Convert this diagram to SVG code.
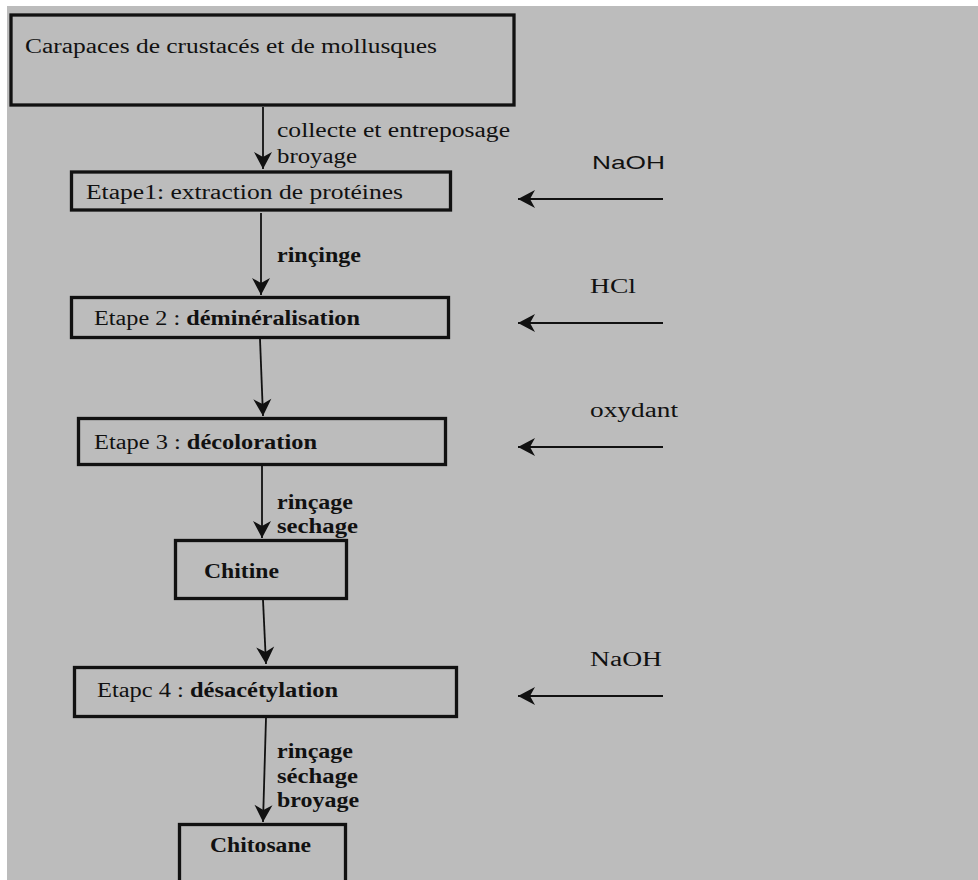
<svg xmlns="http://www.w3.org/2000/svg" width="978" height="880" viewBox="0 0 978 880">
<defs>
<style>
.box{fill:none;stroke:#111;stroke-width:3.3}
.ln{fill:none;stroke:#111;stroke-width:1.8}
.t{font-family:"Liberation Serif","Times New Roman",serif;fill:#111;font-size:20px}
.b{font-weight:bold}
.s{font-family:"Liberation Sans",Arial,sans-serif;fill:#111;font-size:19px}
</style>
<marker id="ah" viewBox="-18 -10 20 20" markerWidth="20" markerHeight="20" refX="0" refY="0" orient="auto" markerUnits="userSpaceOnUse">
<path d="M0,0 L-17,-9 L-12,0 L-17,9 Z" fill="#111"/>
</marker>
</defs>
<rect x="0" y="0" width="978" height="880" fill="#ffffff"/>
<rect x="7" y="6" width="971" height="874" fill="#bcbcbc"/>

<g id="connectors">
<line class="ln" x1="263" y1="107" x2="263" y2="169" marker-end="url(#ah)"/>
<line class="ln" x1="261" y1="213" x2="261" y2="295" marker-end="url(#ah)"/>
<line class="ln" x1="260" y1="339" x2="263" y2="416" marker-end="url(#ah)"/>
<line class="ln" x1="262" y1="466" x2="262" y2="538" marker-end="url(#ah)"/>
<line class="ln" x1="263" y1="600" x2="266" y2="664" marker-end="url(#ah)"/>
<line class="ln" x1="266" y1="718" x2="263" y2="822" marker-end="url(#ah)"/>
<line class="ln" x1="663" y1="199" x2="518" y2="199" marker-end="url(#ah)"/>
<line class="ln" x1="663" y1="323" x2="518" y2="323" marker-end="url(#ah)"/>
<line class="ln" x1="663" y1="447" x2="518" y2="447" marker-end="url(#ah)"/>
<line class="ln" x1="663" y1="696" x2="518" y2="696" marker-end="url(#ah)"/>
<text class="t" x="277" y="137" textLength="233" lengthAdjust="spacingAndGlyphs">collecte et entreposage</text>
<text class="t" x="277" y="163" textLength="80" lengthAdjust="spacingAndGlyphs">broyage</text>
<text class="t b" x="277" y="262" textLength="84" lengthAdjust="spacingAndGlyphs">rinçinge</text>
<text class="t b" x="277" y="509" textLength="76" lengthAdjust="spacingAndGlyphs">rinçage</text>
<text class="t b" x="277" y="533" textLength="81" lengthAdjust="spacingAndGlyphs">sechage</text>
<text class="t b" x="277" y="758" textLength="76" lengthAdjust="spacingAndGlyphs">rinçage</text>
<text class="t b" x="277" y="783" textLength="81" lengthAdjust="spacingAndGlyphs">séchage</text>
<text class="t b" x="277" y="807" textLength="82" lengthAdjust="spacingAndGlyphs">broyage</text>
<text class="s" x="592" y="169" textLength="73" lengthAdjust="spacingAndGlyphs">NaOH</text>
<text class="t" x="590" y="293" font-size="21" textLength="46" lengthAdjust="spacingAndGlyphs">HCl</text>
<text class="t" x="590" y="417" textLength="88" lengthAdjust="spacingAndGlyphs">oxydant</text>
<text class="t" x="590" y="666" textLength="72" lengthAdjust="spacingAndGlyphs">NaOH</text>
</g>

<g id="n-carapaces">
<rect class="box" x="11" y="15" width="503" height="90"/>
<text class="t" x="25" y="53" textLength="412" lengthAdjust="spacingAndGlyphs">Carapaces de crustacés et de mollusques</text>
</g>
<g id="n-etape1">
<rect class="box" x="71.5" y="172" width="379" height="38"/>
<text class="t" x="86" y="199" font-size="21" textLength="317" lengthAdjust="spacingAndGlyphs">Etape1: extraction de protéines</text>
</g>
<g id="n-etape2">
<rect class="box" x="71.5" y="297.5" width="377" height="40"/>
<text class="t" x="94" y="325" font-size="21" textLength="266" lengthAdjust="spacingAndGlyphs">Etape 2 : <tspan class="b">déminéralisation</tspan></text>
</g>
<g id="n-etape3">
<rect class="box" x="78.5" y="418.5" width="367" height="46"/>
<text class="t" x="94" y="449" font-size="21" textLength="223" lengthAdjust="spacingAndGlyphs">Etape 3 : <tspan class="b">décoloration</tspan></text>
</g>
<g id="n-chitine">
<rect class="box" x="175.5" y="540.5" width="171" height="58"/>
<text class="t b" x="204" y="578" font-size="23" textLength="75" lengthAdjust="spacingAndGlyphs">Chitine</text>
</g>
<g id="n-etape4">
<rect class="box" x="74.5" y="667.5" width="382" height="49"/>
<text class="t" x="97" y="697" font-size="21" textLength="241" lengthAdjust="spacingAndGlyphs">Etapc 4 : <tspan class="b">désacétylation</tspan></text>
</g>
<g id="n-chitosane">
<rect class="box" x="179.5" y="824.5" width="166" height="80"/>
<text class="t b" x="210" y="852" font-size="23" textLength="101" lengthAdjust="spacingAndGlyphs">Chitosane</text>
</g>
</svg>
